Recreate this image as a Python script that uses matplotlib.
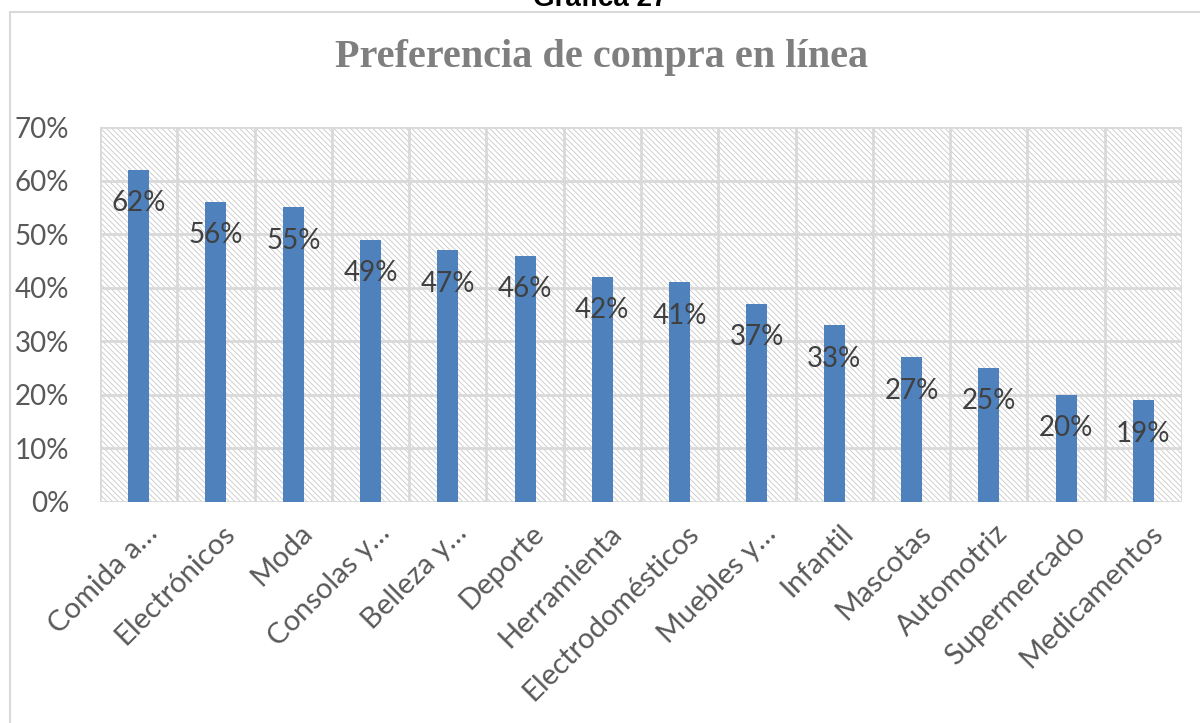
import numpy as np
import matplotlib.pyplot as plt
from matplotlib.patches import Rectangle
from matplotlib.transforms import ScaledTranslation

categorias = ['Comida a…', 'Electrónicos', 'Moda', 'Consolas y…', 'Belleza y…',
              'Deporte', 'Herramienta', 'Electrodomésticos', 'Muebles y…',
              'Infantil', 'Mascotas', 'Automotriz', 'Supermercado', 'Medicamentos']
valores = [0.62, 0.56, 0.55, 0.49, 0.47, 0.46, 0.42, 0.41, 0.37, 0.33, 0.27, 0.25, 0.20, 0.19]
yticks = [0, 0.1, 0.2, 0.3, 0.4, 0.5, 0.6, 0.7]

plt.rcParams['font.family'] = ['Lato', 'DejaVu Sans']
plt.rcParams['hatch.linewidth'] = 0.6
plt.rcParams['hatch.color'] = '#c8c8c8'

fig = plt.figure(figsize=(12, 7.23), dpi=100)

# borde del area del grafico
fig.patches.append(Rectangle((10/1200, -0.01), 1.2, 1 - 12/723 + 0.01, transform=fig.transFigure,
                             fill=False, edgecolor='#d9d9d9', linewidth=1.5))
fig.text(0.5, 1.0 + 0.002, 'Gráfica 27', ha='center', va='center', fontsize=20,
         fontweight='bold', family='Liberation Sans', color='black')
fig.text(0.501, 1 - 58/723, 'Preferencia de compra en línea', ha='center', va='center',
         fontsize=29, fontweight='bold', family='Liberation Serif', color='#7f7f7f')

ax = fig.add_axes([100/1200, 1 - 502/723, (1182 - 100)/1200, (502 - 127)/723])
x = np.arange(len(categorias))

# fondo con trama diagonal
ax.add_patch(Rectangle((0, 0), 1, 1, transform=ax.transAxes, facecolor='white',
                       edgecolor='#c8c8c8', hatch='\\\\\\\\\\\\', linewidth=0, zorder=0))

ax.bar(x, valores, width=0.27, color='#4f81bd', zorder=3)
for xi, v in zip(x, valores):
    ax.annotate(f'{v*100:.0f}%', (xi, v), xytext=(0, -24), textcoords='offset points',
                ha='center', va='center', fontsize=20, color='#404040', zorder=4)

ax.set_xlim(-0.5, len(categorias) - 0.5)
ax.set_ylim(0, 0.7)
ax.set_yticks(yticks)
ax.set_yticklabels([f'{t*100:.0f}%' for t in yticks])
for yv in yticks[1:]:
    ax.axhline(yv, color='#d9d9d9', linewidth=2, zorder=1)
for xv in np.arange(-0.5, len(categorias), 1.0):
    ax.axvline(xv, color='#d9d9d9', linewidth=2, zorder=1)
ax.axhline(0, color='#d9d9d9', linewidth=2, zorder=2)

ax.set_xticks(x)
ax.set_xticklabels(categorias, rotation=45, ha='right', rotation_mode='anchor')
ax.tick_params(axis='x', length=0, pad=13, labelsize=21, labelcolor='#595959')
ax.tick_params(axis='y', length=0, pad=22, labelsize=20, labelcolor='#595959')
shift = ScaledTranslation(6/100, 0, fig.dpi_scale_trans)
for lbl in ax.get_xticklabels():
    lbl.set_transform(lbl.get_transform() + shift)
for s in ax.spines.values():
    s.set_visible(False)

fig.savefig('out.png', dpi=100)
